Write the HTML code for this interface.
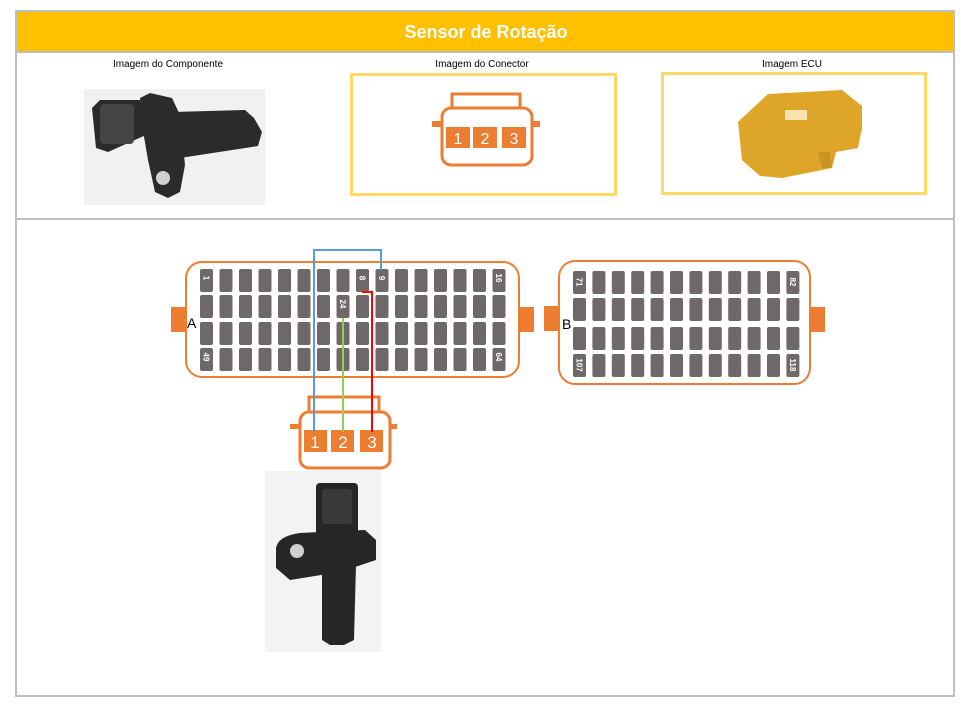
<!DOCTYPE html>
<html><head><meta charset="utf-8"><style>
html,body{margin:0;padding:0;background:#fff;}
body{width:961px;height:709px;overflow:hidden;font-family:"Liberation Sans",sans-serif;}
</style></head><body>
<svg width="961" height="709" viewBox="0 0 961 709" xmlns="http://www.w3.org/2000/svg" font-family="Liberation Sans, sans-serif">
<rect x="16" y="11" width="938" height="685" fill="#fff" stroke="#bfbfbf" stroke-width="2"/>
<rect x="17" y="12" width="936" height="40" fill="#FFC000"/>
<line x1="17" y1="52" x2="953" y2="52" stroke="#bfbfbf" stroke-width="2"/>
<text x="486" y="38" text-anchor="middle" fill="#fff" font-size="18" font-weight="bold">Sensor de Rotação</text>
<line x1="17" y1="219" x2="953" y2="219" stroke="#bfbfbf" stroke-width="2"/>
<text x="168" y="67" text-anchor="middle" font-size="10" fill="#000">Imagem do Componente</text>
<text x="482" y="67" text-anchor="middle" font-size="10" fill="#000">Imagem do Conector</text>
<text x="792" y="67" text-anchor="middle" font-size="10" fill="#000">Imagem ECU</text>

<!-- component photo -->
<rect x="84" y="89" width="181" height="116" fill="#f1f1f1"/>
<g fill="#2b2b2b">
<path d="M172 112 L245 110 L254 118 L262 132 L258 146 L180 158 Z"/>
<path d="M92 108 L100 100 L140 100 L146 135 L108 152 L96 148 Z"/>
<path d="M140 98 L150 93 L172 98 L180 115 L185 165 L180 192 L168 198 L155 192 L148 160 L142 125 Z"/>
</g>
<g fill="#444"><rect x="100" y="104" width="34" height="40" rx="4"/></g>
<circle cx="163" cy="178" r="7" fill="#d0d0d0"/>

<!-- connector image box -->
<rect x="351.5" y="74.5" width="264" height="120" fill="#fff" stroke="#FFD966" stroke-width="3"/>
<g fill="none" stroke="#ED7D31" stroke-width="3">
<rect x="452" y="94" width="68" height="14"/>
<rect x="442" y="108" width="90" height="57" rx="9"/>
</g>
<rect x="432" y="121" width="10" height="6" fill="#ED7D31"/>
<rect x="532" y="121" width="8" height="6" fill="#ED7D31"/>
<g fill="#ED7D31"><rect x="446" y="127" width="24" height="21"/><rect x="473" y="127" width="24" height="21"/><rect x="502" y="127" width="24" height="21"/></g>
<g fill="#fff" font-size="16" text-anchor="middle"><text x="458" y="144">1</text><text x="485" y="144">2</text><text x="514" y="144">3</text></g>

<!-- ECU box -->
<rect x="662.5" y="73.5" width="263" height="120" fill="#fff" stroke="#FFD966" stroke-width="3"/>
<path d="M738 122 L768 94 L842 90 L862 106 L862 128 L858 148 L836 152 L832 168 L782 178 L760 176 L742 160 Z" fill="#DDA628"/>
<path d="M818 152 L830 152 L832 168 L822 168 Z" fill="#c99520"/>
<rect x="785" y="110" width="22" height="10" fill="#f5e3b0"/>

<!-- Connector A -->
<rect x="171" y="307" width="16" height="25" fill="#ED7D31"/>
<rect x="518" y="307" width="16" height="25" fill="#ED7D31"/>
<rect x="186" y="262" width="333" height="115" rx="16" fill="#fff" stroke="#ED7D31" stroke-width="2"/>
<g id="pa" fill="#6f6868"></g>
<text x="187" y="328" font-size="14" fill="#000">A</text>

<!-- Connector B -->
<rect x="544" y="306" width="15" height="25" fill="#ED7D31"/>
<rect x="810" y="307" width="15" height="25" fill="#ED7D31"/>
<rect x="559" y="261" width="251" height="123" rx="16" fill="#fff" stroke="#ED7D31" stroke-width="2"/>
<g id="pb" fill="#6f6868"></g>
<text x="562" y="329" font-size="14" fill="#000">B</text>
<g id="labels" fill="#fff" font-size="8" font-weight="bold"></g>

<!-- bottom connector -->
<g fill="none" stroke="#ED7D31" stroke-width="3">
<rect x="309" y="397" width="70" height="15"/>
<rect x="300" y="412" width="90" height="56" rx="9"/>
</g>
<rect x="290" y="424" width="10" height="5" fill="#ED7D31"/>
<rect x="390" y="424" width="7" height="5" fill="#ED7D31"/>
<g fill="#ED7D31"><rect x="304" y="430" width="23" height="22"/><rect x="331" y="430" width="23" height="22"/><rect x="360" y="430" width="23" height="22"/></g>
<g fill="#fff" font-size="17" text-anchor="middle"><text x="315" y="448">1</text><text x="343" y="448">2</text><text x="372" y="448">3</text></g>

<!-- wires -->
<polyline points="314,432 314,250 381,250 381,270" fill="none" stroke="#5B9BD5" stroke-width="2"/>
<polyline points="362,292 372,292 372,432" fill="none" stroke="#FF0000" stroke-width="2"/>
<polyline points="343,318 343,432" fill="none" stroke="#92D050" stroke-width="2"/>

<!-- bottom photo -->
<rect x="265" y="471" width="116" height="181" fill="#f3f3f3"/>
<g fill="#262626">
<rect x="316" y="483" width="42" height="62" rx="4"/>
<path d="M276 548 Q278 536 300 533 L320 532 L365 530 L376 540 L376 560 L340 572 L290 580 L276 568 Z"/>
<path d="M322 565 L356 565 L354 640 L344 645 L330 645 L322 640 Z"/>
</g>
<rect x="322" y="489" width="30" height="35" rx="3" fill="#3a3a3a"/>
<circle cx="297" cy="551" r="7" fill="#d0d0d0"/>
</svg>
<script>
var ns="http://www.w3.org/2000/svg";
function r(g,x,y){var e=document.createElementNS(ns,"rect");e.setAttribute("x",x);e.setAttribute("y",y);e.setAttribute("width",13);e.setAttribute("height",23);e.setAttribute("rx",2);g.appendChild(e);}
var pa=document.getElementById("pa"),pb=document.getElementById("pb"),L=document.getElementById("labels");
var ra=[269,295,322,348];
for(var i=0;i<16;i++)for(var j=0;j<4;j++)r(pa,200+i*19.5,ra[j]);
var rb=[271,298,327,354];
for(var i=0;i<12;i++)for(var j=0;j<4;j++)r(pb,573+i*19.4,rb[j]);
function t(s,cx,cy){var e=document.createElementNS(ns,"text");e.textContent=s;e.setAttribute("text-anchor","middle");e.setAttribute("transform","translate("+cx+","+cy+") rotate(90)");e.setAttribute("y",3);L.appendChild(e);}
var A=[["1",0,0],["8",8,0],["9",9,0],["16",15,0],["24",7,1],["49",0,3],["64",15,3]];
A.forEach(function(a){t(a[0],200+a[1]*19.5+6.5,ra[a[2]]+9);});
var B=[["71",0,0],["82",11,0],["107",0,3],["118",11,3]];
B.forEach(function(a){t(a[0],573+a[1]*19.4+6.5,rb[a[2]]+11);});
</script>
</body></html>
